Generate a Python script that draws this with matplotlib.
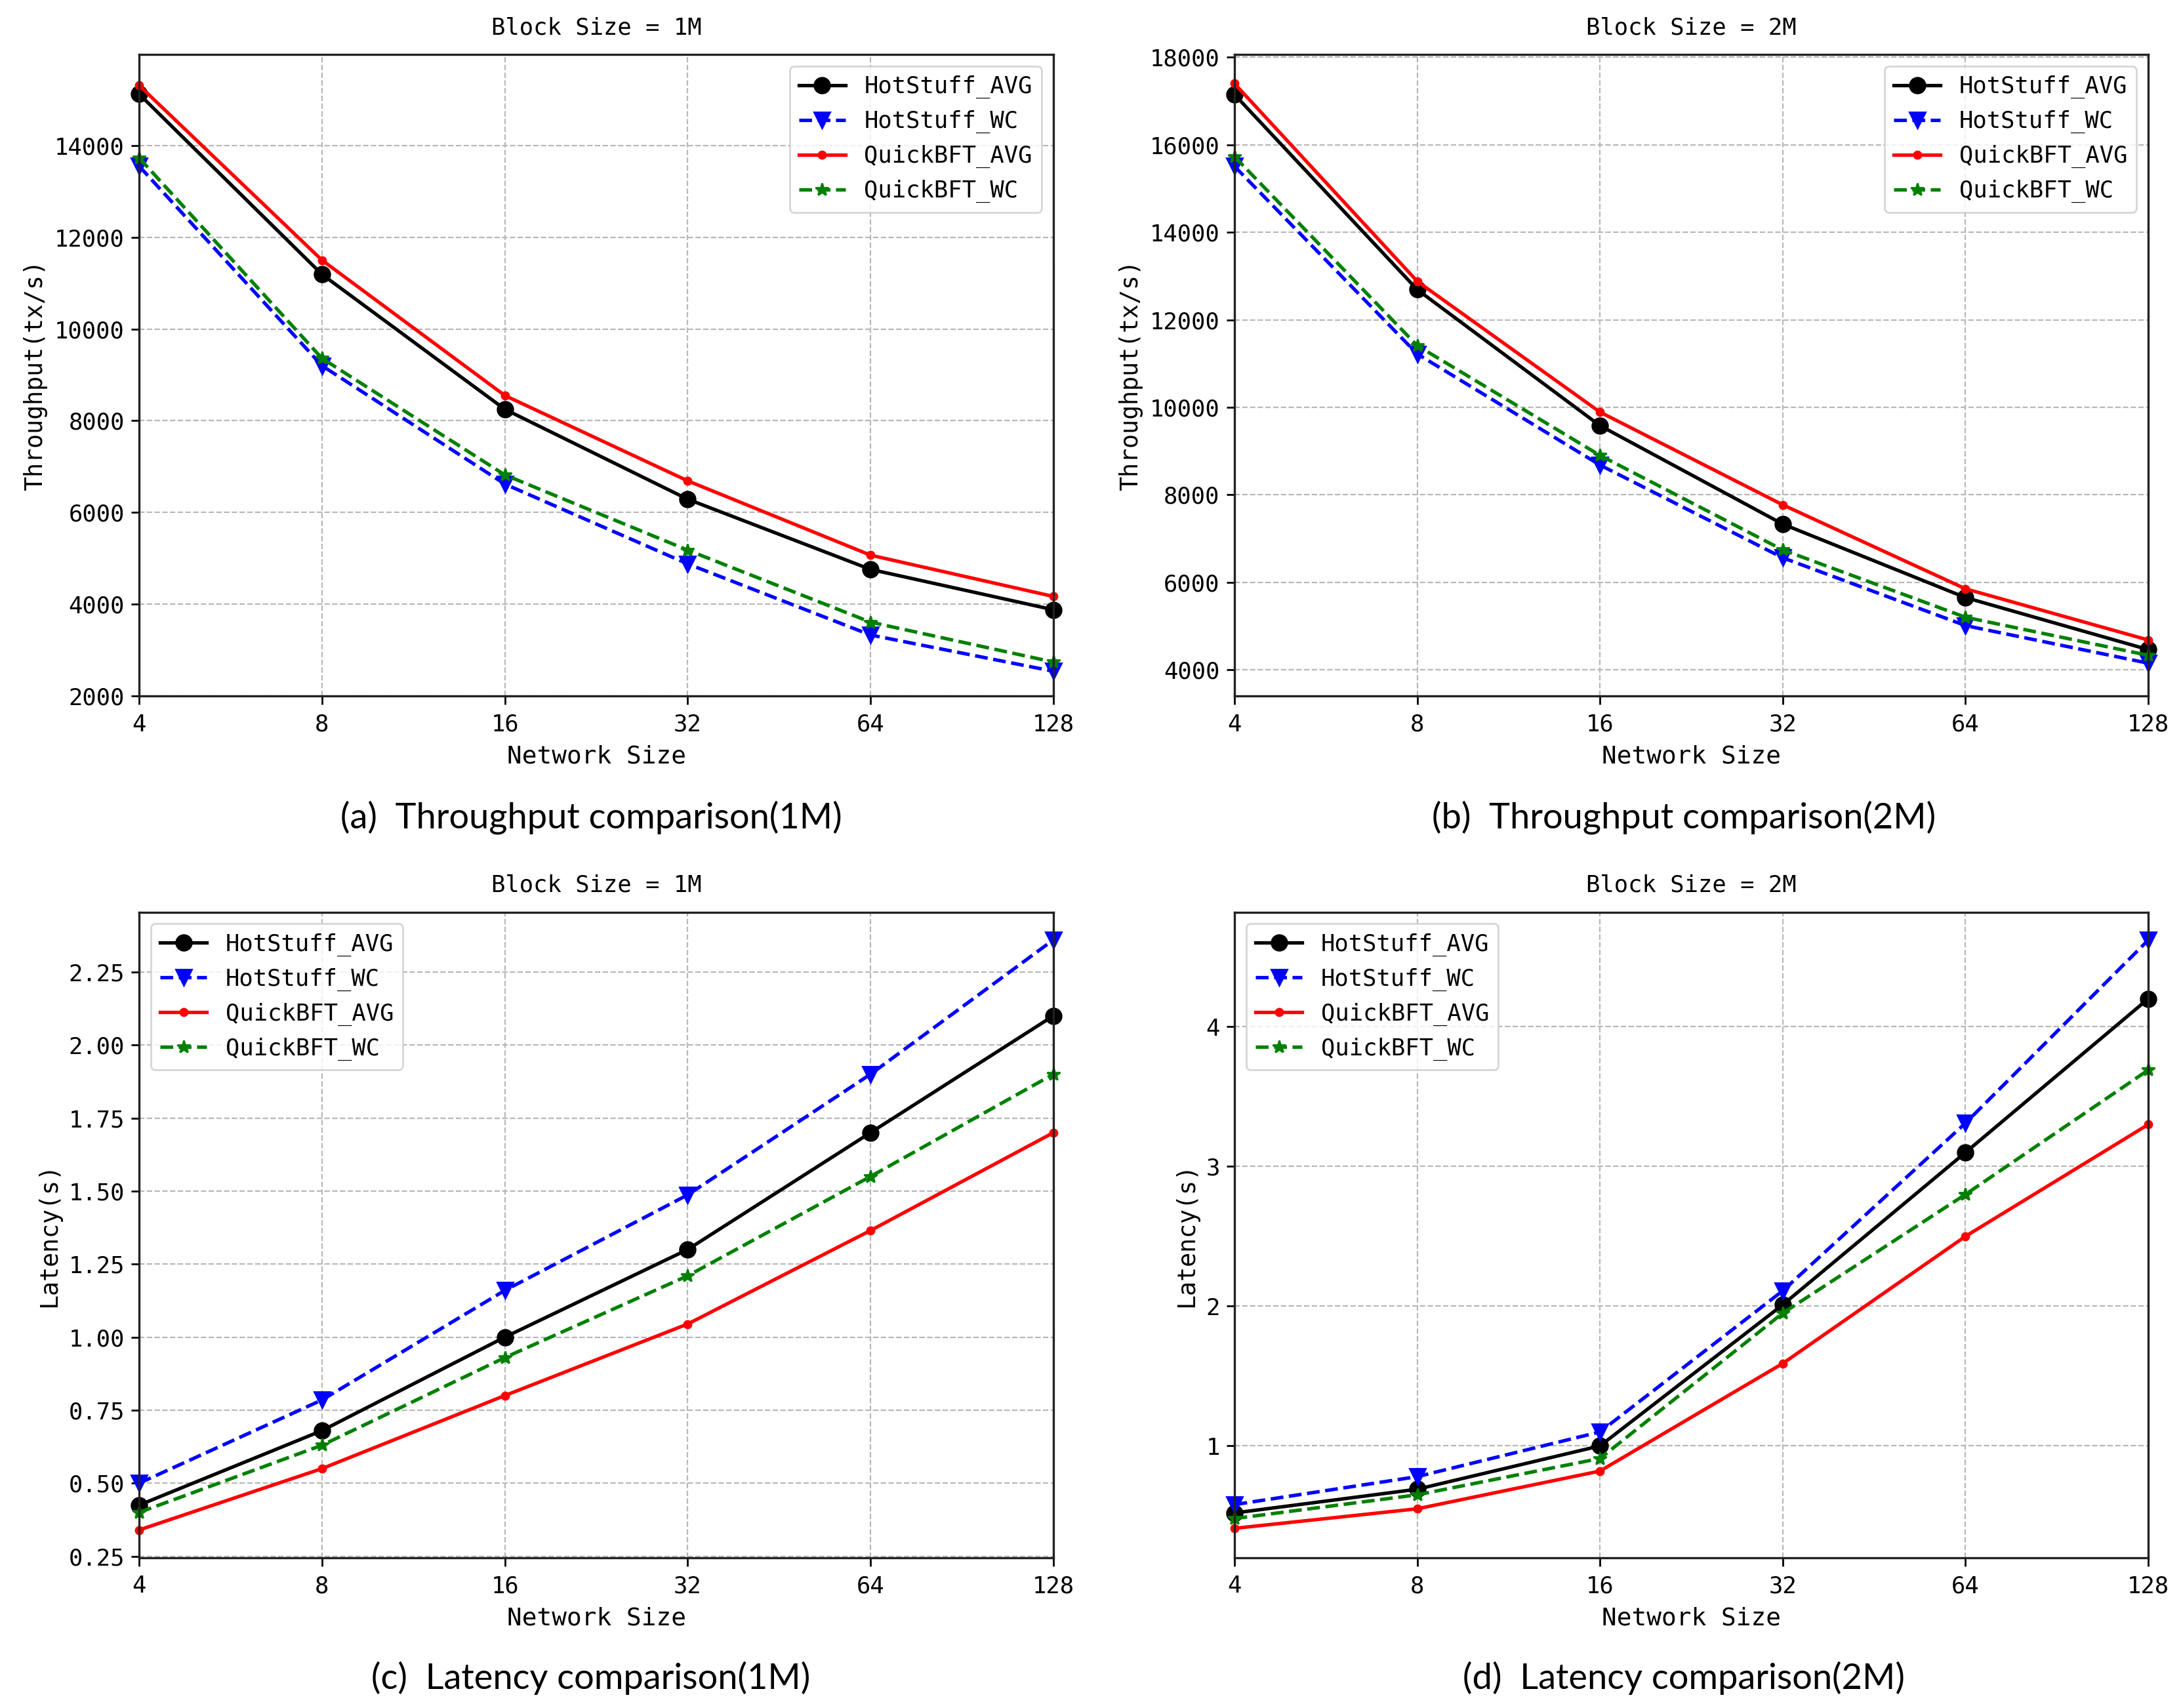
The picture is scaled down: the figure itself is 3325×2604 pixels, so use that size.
import matplotlib
matplotlib.use("Agg")
import matplotlib.pyplot as plt
from matplotlib.ticker import FixedLocator, FormatStrFormatter

# 网络规模
network_size = [4, 8, 16, 32, 64, 128]

# 吞吐量 Block Size = 1M
tp1_hs_avg = [15120, 11190, 8250, 6290, 4760, 3880]
tp1_hs_wc = [13550, 9200, 6620, 4880, 3330, 2540]
tp1_qb_avg = [15310, 11500, 8550, 6690, 5070, 4170]
tp1_qb_wc = [13730, 9360, 6820, 5180, 3610, 2740]

# 吞吐量 Block Size = 2M
tp2_hs_avg = [17150, 12690, 9580, 7330, 5650, 4460]
tp2_hs_wc = [15510, 11220, 8680, 6560, 5010, 4150]
tp2_qb_avg = [17400, 12880, 9890, 7770, 5850, 4680]
tp2_qb_wc = [15730, 11410, 8900, 6740, 5200, 4330]

# 延迟 Block Size = 1M
lat1_hs_avg = [0.425, 0.68, 1.00, 1.30, 1.70, 2.10]
lat1_hs_wc = [0.50, 0.785, 1.16, 1.487, 1.90, 2.36]
lat1_qb_avg = [0.34, 0.55, 0.80, 1.045, 1.365, 1.70]
lat1_qb_wc = [0.40, 0.63, 0.93, 1.21, 1.55, 1.90]

# 延迟 Block Size = 2M
lat2_hs_avg = [0.52, 0.69, 1.00, 2.01, 3.10, 4.20]
lat2_hs_wc = [0.58, 0.78, 1.10, 2.11, 3.31, 4.62]
lat2_qb_avg = [0.41, 0.55, 0.82, 1.59, 2.50, 3.30]
lat2_qb_wc = [0.48, 0.65, 0.91, 1.95, 2.80, 3.69]

series_names = ["HotStuff_AVG", "HotStuff_WC", "QuickBFT_AVG", "QuickBFT_WC"]

FONT = "DejaVu Sans Mono"
FS = 12.8
plt.rcParams['font.family'] = [FONT, 'Noto Sans CJK SC']

fig = plt.figure(figsize=(16.625, 13.02), dpi=200)

boxes = {
    'a': [0.0638, 0.5925, 0.4192, 0.3755],
    'b': [0.566, 0.5925, 0.419, 0.3755],
    'c': [0.0638, 0.088, 0.4192, 0.378],
    'd': [0.566, 0.088, 0.419, 0.378],
}


def draw(ax, data, title, ylabel, ylim, legend_loc):
    styles = [
        dict(color='black', ls='-', marker='o', ms=8.5),
        dict(color='blue', ls='--', marker='v', ms=8.5),
        dict(color='red', ls='-', marker='.', ms=8),
        dict(color='green', ls='--', marker='*', ms=7.5),
    ]
    for vals, name, st in zip(data, series_names, styles):
        ax.plot(network_size, vals, label=name, lw=1.9, clip_on=False, **st)
    ax.set_xscale('log', base=2)
    ax.xaxis.set_major_locator(FixedLocator(network_size))
    ax.xaxis.set_minor_locator(FixedLocator([]))
    ax.xaxis.set_major_formatter(FormatStrFormatter('%d'))
    ax.set_xlim(4, 128)
    ax.set_ylim(*ylim)
    ax.grid(True, ls='--', color='#b8b8b8', lw=0.8)
    ax.set_title(title, fontsize=FS, pad=11)
    ax.set_xlabel("Network Size", fontsize=13.6, labelpad=5)
    ax.set_ylabel(ylabel, fontsize=13.2)
    ax.tick_params(labelsize=FS, length=4.5, width=1.0)
    ax.tick_params(axis='x', pad=5)
    for sp in ax.spines.values():
        sp.set_linewidth(1.2)
        sp.set_color('#222222')
    ax.legend(loc=legend_loc, fontsize=FS)


ax_a = fig.add_axes(boxes['a'])
draw(ax_a, [tp1_hs_avg, tp1_hs_wc, tp1_qb_avg, tp1_qb_wc],
     "Block Size = 1M", "Throughput(tx/s)", (2000, 15980), 'upper right')

ax_b = fig.add_axes(boxes['b'])
draw(ax_b, [tp2_hs_avg, tp2_hs_wc, tp2_qb_avg, tp2_qb_wc],
     "Block Size = 2M", "Throughput(tx/s)", (3400, 18060), 'upper right')

ax_c = fig.add_axes(boxes['c'])
draw(ax_c, [lat1_hs_avg, lat1_hs_wc, lat1_qb_avg, lat1_qb_wc],
     "Block Size = 1M", "Latency(s)", (0.245, 2.455), 'upper left')
ax_c.yaxis.set_major_locator(FixedLocator([0.25, 0.5, 0.75, 1.0, 1.25, 1.5, 1.75, 2.0, 2.25]))
ax_c.yaxis.set_major_formatter(FormatStrFormatter('%.2f'))

ax_d = fig.add_axes(boxes['d'])
draw(ax_d, [lat2_hs_avg, lat2_hs_wc, lat2_qb_avg, lat2_qb_wc],
     "Block Size = 2M", "Latency(s)", (0.2, 4.82), 'upper left')
ax_d.yaxis.set_major_locator(FixedLocator([1, 2, 3, 4]))
ax_d.yaxis.set_major_formatter(FormatStrFormatter('%d'))

# 子图标题
cap = dict(fontsize=19.5, family=['Lato', 'DejaVu Sans'], ha='center', va='center')
fig.text(0.271, 0.5215, "(a)  Throughput comparison(1M)", **cap)
fig.text(0.772, 0.5215, "(b)  Throughput comparison(2M)", **cap)
fig.text(0.271, 0.0177, "(c)  Latency comparison(1M)", **cap)
fig.text(0.772, 0.0177, "(d)  Latency comparison(2M)", **cap)

fig.savefig("out.png", dpi=200, facecolor='white')
